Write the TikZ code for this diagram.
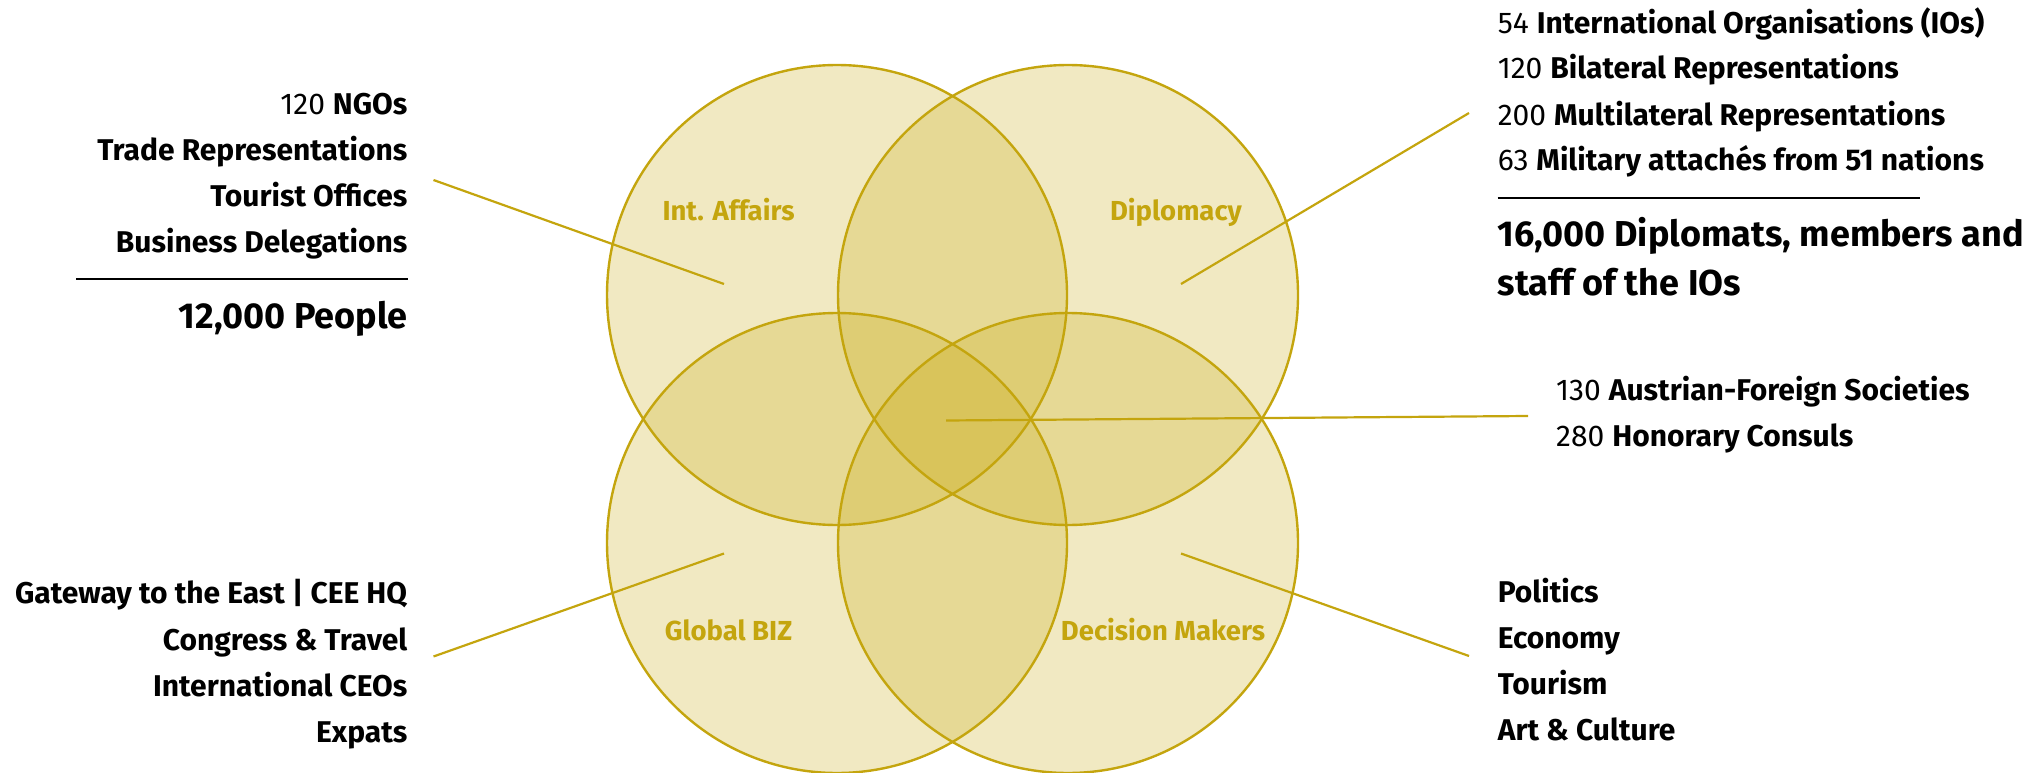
\documentclass[tikz,border=0pt]{standalone}
\usepackage{fontspec}
\setmainfont{Fira Sans}
\usepackage{xcolor}
\definecolor{vennGold}{RGB}{196,165,14}
\definecolor{vennFill}{RGB}{200,170,20}

\tikzset{
  venn fill/.style={fill=vennFill, fill opacity=0.26},
  venn edge/.style={draw=vennGold, line width=2.4pt},
  venn label/.style={text=vennGold, font=\fontsize{27.5}{33}\selectfont\bfseries, anchor=base, inner sep=0pt},
  info/.style={font=\fontsize{30}{36}\selectfont, inner sep=0pt},
  info big/.style={font=\fontsize{36}{43}\selectfont\bfseries, inner sep=0pt},
  pointer/.style={draw=vennGold, line width=2.2pt},
  rule/.style={draw=black, line width=2pt}
}

\begin{document}
\begin{tikzpicture}[x=1pt,y=-1pt]
  \useasboundingbox (0,0) rectangle (2042,773);

  % circle centres
  \coordinate (IA) at (837,295);
  \coordinate (DI) at (1068,295);
  \coordinate (GB) at (837,543);
  \coordinate (DM) at (1068,543);

  \foreach \c in {IA,DI,GB,DM}
    \fill[venn fill] (\c) circle (230pt);
  \foreach \c in {IA,DI,GB,DM}
    \draw[venn edge] (\c) circle (230pt);

  \node[venn label] (iaLabel) at (728.5,220.7) {Int. Affairs};
  \node[venn label] (diLabel) at (1176,220.7) {Diplomacy};
  \node[venn label] (gbLabel) at (728.5,640) {Global BIZ};
  \node[venn label] (dmLabel) at (1163,640) {Decision Makers};

  % left top
  \node[info, anchor=base east] (ngo) at (407.6,114.5) {120 \textbf{NGOs}};
  \node[info, anchor=base east] (trade) at (407.6,160.5) {\textbf{Trade Representations}};
  \node[info, anchor=base east] (tourist) at (407.6,206.5) {\textbf{Tourist Offices}};
  \node[info, anchor=base east] (business) at (407.6,252.5) {\textbf{Business Delegations}};
  \node[info big, anchor=base east] (people) at (407.6,328) {12,000 People};
  \coordinate (ruleL1) at (76,279.3);
  \coordinate (ruleL2) at (407.6,279.3);
  \draw[rule] (ruleL1) -- (ruleL2);

  % right top
  \node[info, anchor=base west] (ios) at (1497.6,33.3) {54 \textbf{International Organisations (IOs)}};
  \node[info, anchor=base west] (bilat) at (1497.6,79) {120 \textbf{Bilateral Representations}};
  \node[info, anchor=base west] (multi) at (1497.6,125) {200 \textbf{Multilateral Representations}};
  \node[info, anchor=base west] (military) at (1497.6,170.7) {63 \textbf{Military attachés from 51 nations}};
  \node[info big, anchor=base west] (diplomats) at (1497.6,246.7) {16,000 Diplomats, members and};
  \node[info big, anchor=base west] (staff) at (1497.6,295) {staff of the IOs};
  \coordinate (ruleR1) at (1497.6,198.3);
  \coordinate (ruleR2) at (1919.6,198.3);
  \draw[rule] (ruleR1) -- (ruleR2);

  % right middle
  \node[info, anchor=base west] (societies) at (1556,400) {130 \textbf{Austrian-Foreign Societies}};
  \node[info, anchor=base west] (consuls) at (1556,446.7) {280 \textbf{Honorary Consuls}};

  % left bottom
  \node[info, anchor=base east] (gateway) at (407.6,603.3) {\textbf{Gateway to the East | CEE HQ}};
  \node[info, anchor=base east] (congress) at (407.6,650) {\textbf{Congress \& Travel}};
  \node[info, anchor=base east] (ceos) at (407.6,696) {\textbf{International CEOs}};
  \node[info, anchor=base east] (expats) at (407.6,742.3) {\textbf{Expats}};

  % right bottom
  \node[info, anchor=base west] (politics) at (1497.6,602.3) {\textbf{Politics}};
  \node[info, anchor=base west] (economy) at (1497.6,648.3) {\textbf{Economy}};
  \node[info, anchor=base west] (tourism) at (1497.6,694.3) {\textbf{Tourism}};
  \node[info, anchor=base west] (culture) at (1497.6,740.7) {\textbf{Art \& Culture}};

  % pointers
  \coordinate (iaIn) at (724,284);
  \coordinate (iaOut) at (433.5,180);
  \coordinate (diIn) at (1181,284);
  \coordinate (diOut) at (1469,113);
  \coordinate (ctIn) at (946,420.5);
  \coordinate (ctOut) at (1528,416);
  \coordinate (gbIn) at (724,553.5);
  \coordinate (gbOut) at (433.5,656.5);
  \coordinate (dmIn) at (1181,553.5);
  \coordinate (dmOut) at (1469,656);
  \draw[pointer] (iaIn) -- (iaOut);
  \draw[pointer] (diIn) -- (diOut);
  \draw[pointer] (ctIn) -- (ctOut);
  \draw[pointer] (gbIn) -- (gbOut);
  \draw[pointer] (dmIn) -- (dmOut);
\end{tikzpicture}
\end{document}
